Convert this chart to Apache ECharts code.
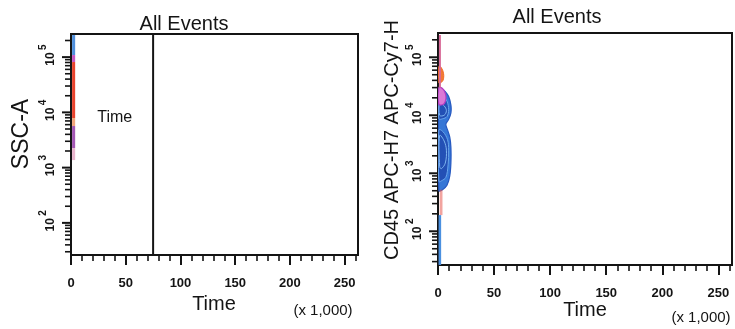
<!DOCTYPE html>
<html>
<head>
<meta charset="utf-8">
<script src="https://cdn.jsdelivr.net/npm/echarts@6/dist/echarts.min.js"></script>
<style>
  html, body { margin: 0; padding: 0; background: #fff; }
  #chart { width: 735px; height: 329px; }
</style>
</head>
<body>
<div id="chart"></div>
<script>
// ---- Axis scales (18-bit cytometer ranges) ----
const timeMax = 262144;
const logMin = 26.2144;
const logMax = 262144;

const xTickValues = [0, 50000, 100000, 150000, 200000, 250000];
const xTickLabels = ['0', '50', '100', '150', '200', '250'];
const xMinorTicks = [10000, 20000, 30000, 40000, 60000, 70000, 80000, 90000,
  110000, 120000, 130000, 140000, 160000, 170000, 180000, 190000,
  210000, 220000, 230000, 240000, 260000];

const yDecades = [100, 1000, 10000, 100000];
const yExponents = ['2', '3', '4', '5'];
const yMinorTicks = [30, 40, 50, 60, 70, 80, 90,
  200, 300, 400, 500, 600, 700, 800, 900,
  2000, 3000, 4000, 5000, 6000, 7000, 8000, 9000,
  20000, 30000, 40000, 50000, 60000, 70000, 80000, 90000,
  200000];

// ---- SSC-A vs Time: density bands [timeStart, timeEnd, low, high, level] ----
const sscBands = [
  [1000, 3800, 109000, 251000, 0],
  [1000, 3800, 81500, 109000, 1],
  [1000, 3800, 7900, 81500, 2],
  [1000, 3800, 5660, 7900, 3],
  [1000, 3800, 2260, 5660, 4],
  [1000, 3800, 1370, 2260, 5]
];
const timeGate = [75000];
const gateLabel = ['Time'];
const gateLabelAt = [40000, 8200];

// ---- CD45 APC-H7 vs Time: contour outlines [time, value] ----
const cd45Outer = [[800, 29000], [3500, 28500], [6500, 25500], [9500, 21000], [11500, 15000],
  [11500, 11000], [9500, 8500], [7000, 7000], [8500, 5600], [10500, 4200], [11500, 2800],
  [11500, 1500], [10500, 900], [8000, 620], [4000, 520], [800, 500]];
const cd45UpperCore = [[800, 24000], [4500, 22000], [8000, 17500], [9500, 12500],
  [8000, 9500], [4000, 8700], [800, 8700]];
const cd45LowerCore = [[800, 5600], [4500, 5200], [8500, 3800], [9500, 2500],
  [9000, 1400], [7000, 850], [3000, 740], [800, 720]];
const cd45LowerInner = [[1500, 4500], [5500, 3600], [7500, 2500], [6500, 1500],
  [3000, 1200], [1500, 1300]];
const cd45UpperInner = [[1500, 16000], [5500, 14500], [7500, 12000], [5500, 10000], [1500, 10000]];
const cd45Magenta = [[800, 30000], [4000, 29000], [6500, 24000], [7000, 19000],
  [5000, 15500], [800, 15500]];
const cd45Orange = [[800, 70000], [3000, 66000], [5000, 52000], [4500, 40000],
  [2000, 36000], [800, 36000]];
// thin event streaks [timeStart, timeEnd, low, high, level]
const cd45Bands = [
  [800, 2600, 30000, 242000, 0],
  [1500, 4000, 190, 520, 1],
  [500, 2800, 26.3, 190, 2]
];

// ---- styles ----
const FONT = '"Liberation Sans", Arial, sans-serif';
const INK = '#141414';
const sscLevelColors = ['#4f8fdc', '#c456c4', '#e8432d', '#f2a57a', '#a457b4', '#e8b4cc'];
const cd45BandColors = ['#d86a98', 'rgba(232,90,80,0.55)', '#4a90e0'];
const cd45Layers = [
  { pts: cd45Outer, fill: '#3576d6', stroke: '#2558c0', width: 1.2 },
  { pts: cd45UpperCore, fill: '#2350b5', stroke: '#6aa6ec', width: 1 },
  { pts: cd45LowerCore, fill: '#2350b5', stroke: '#6aa6ec', width: 1 },
  { pts: cd45LowerInner, fill: 'rgba(0,0,0,0)', stroke: '#7db4ef', width: 1 },
  { pts: cd45UpperInner, fill: 'rgba(0,0,0,0)', stroke: '#7db4ef', width: 1 },
  { pts: cd45Magenta, fill: '#dc78d6', stroke: '#b43cc2', width: 1.2 },
  { pts: cd45Orange, fill: '#f27a35', stroke: '#f06a25', width: 1 }
];

const grids = [
  { left: 71, top: 34, width: 287, height: 221 },
  { left: 438, top: 33, width: 294, height: 232 }
];

function mainX(gi) {
  return {
    gridIndex: gi, type: 'value', min: 0, max: timeMax, position: 'bottom',
    axisLine: { show: true, onZero: false, lineStyle: { color: INK, width: 2 } },
    axisTick: { show: true, customValues: xTickValues, length: 10, lineStyle: { color: INK, width: 2 } },
    axisLabel: {
      customValues: xTickValues, margin: 22, fontSize: 13, fontWeight: 'bold',
      color: INK, fontFamily: FONT,
      formatter: v => xTickLabels[xTickValues.indexOf(v)] ?? ''
    },
    splitLine: { show: false }
  };
}
function minorX(gi) {
  return {
    gridIndex: gi, type: 'value', min: 0, max: timeMax, position: 'bottom',
    axisLine: { show: false, onZero: false },
    axisTick: { show: true, customValues: xMinorTicks, length: 6, lineStyle: { color: INK, width: 1.6 } },
    axisLabel: { show: false }, splitLine: { show: false }
  };
}
function dataY(gi) {
  return {
    gridIndex: gi, type: 'log', logBase: 10, min: logMin, max: logMax, position: 'left',
    axisLine: { show: true, onZero: false, lineStyle: { color: INK, width: 2 } },
    axisTick: { show: false }, axisLabel: { show: false }, splitLine: { show: false }
  };
}

// ticks of the log axis: [value, isMajor]
const yTickMarks = yDecades.map(v => [v, 1]).concat(yMinorTicks.map(v => [v, 0]));

function yTickSeries(gi) {
  return {
    type: 'custom', xAxisIndex: gi, yAxisIndex: gi, clip: false, z: 6, silent: true,
    data: yTickMarks.map(t => [0, t[0], t[1]]),
    renderItem(params, api) {
      const p = api.coord([api.value(0), api.value(1)]);
      const len = api.value(2) ? 9 : 6;
      return {
        type: 'line',
        shape: { x1: p[0] - len, y1: p[1], x2: p[0], y2: p[1] },
        style: { stroke: INK, lineWidth: api.value(2) ? 2 : 1.6 }
      };
    }
  };
}
// decade labels "10" with a raised exponent, reading bottom to top
function yLabelSeries(gi) {
  return {
    type: 'custom', xAxisIndex: gi, yAxisIndex: gi, clip: false, z: 6, silent: true,
    data: yDecades.map((v, i) => [0, v, i]),
    renderItem(params, api) {
      const p = api.coord([api.value(0), api.value(1)]);
      const exp = yExponents[api.value(2)];
      return {
        type: 'group',
        children: [
          { type: 'text', x: p[0] - 20, y: p[1] + 2, rotation: Math.PI / 2,
            style: { text: '10', font: 'bold 12px ' + FONT, fill: INK, textAlign: 'center', textVerticalAlign: 'middle' } },
          { type: 'text', x: p[0] - 28, y: p[1] - 10, rotation: Math.PI / 2,
            style: { text: exp, font: 'bold 10px ' + FONT, fill: INK, textAlign: 'center', textVerticalAlign: 'middle' } }
        ]
      };
    }
  };
}

function bandSeries(gi, bands, colors) {
  return {
    type: 'custom', xAxisIndex: gi, yAxisIndex: gi, clip: true, z: 3,
    data: bands,
    encode: { x: [0, 1], y: [2, 3] },
    renderItem(params, api) {
      const a = api.coord([api.value(0), api.value(3)]);
      const b = api.coord([api.value(1), api.value(2)]);
      return {
        type: 'rect',
        shape: { x: a[0], y: a[1], width: b[0] - a[0], height: b[1] - a[1] },
        style: { fill: colors[api.value(4)] }
      };
    }
  };
}

const chart = echarts.init(document.getElementById('chart'), null, { renderer: 'canvas' });

chart.setOption({
  backgroundColor: '#ffffff',
  animation: false,
  grid: grids.map(g => Object.assign({ show: true, borderColor: INK, borderWidth: 2 }, g)),
  xAxis: [mainX(0), mainX(1), minorX(0), minorX(1)],
  yAxis: [dataY(0), dataY(1)],
  series: [
    yTickSeries(0),
    yTickSeries(1),
    yLabelSeries(0),
    yLabelSeries(1),
    // SSC-A event streak
    bandSeries(0, sscBands, sscLevelColors),
    // Time interval gate
    {
      type: 'custom', xAxisIndex: 0, yAxisIndex: 0, z: 4,
      data: timeGate.map(t => [t, logMin, logMax]),
      renderItem(params, api) {
        const top = api.coord([api.value(0), api.value(2)]);
        const bot = api.coord([api.value(0), api.value(1)]);
        return {
          type: 'line',
          shape: { x1: top[0], y1: top[1], x2: bot[0], y2: bot[1] },
          style: { stroke: INK, lineWidth: 2 }
        };
      }
    },
    {
      type: 'custom', xAxisIndex: 0, yAxisIndex: 0, z: 4,
      data: [[gateLabelAt[0], gateLabelAt[1]]],
      renderItem(params, api) {
        const p = api.coord([api.value(0), api.value(1)]);
        return {
          type: 'text', x: p[0], y: p[1],
          style: { text: gateLabel[0], font: '16px ' + FONT, fill: INK, textAlign: 'center', textVerticalAlign: 'middle' }
        };
      }
    },
    // CD45 contour layers
    {
      type: 'custom', xAxisIndex: 1, yAxisIndex: 1, z: 3, clip: true,
      data: cd45Layers.map(l => [l.pts[0][0], l.pts[0][1]]),
      renderItem(params, api) {
        const layer = cd45Layers[params.dataIndex];
        const pts = layer.pts.map(p => api.coord(p));
        return {
          type: 'polygon',
          shape: { points: pts, smooth: 0.35 },
          style: { fill: layer.fill, stroke: layer.stroke, lineWidth: layer.width }
        };
      }
    },
    bandSeries(1, cd45Bands, cd45BandColors)
  ],
  graphic: [
    { type: 'text', x: 184, y: 24, style: { text: 'All Events', font: '20px ' + FONT, fill: INK, textAlign: 'center', textVerticalAlign: 'middle' } },
    { type: 'text', x: 557, y: 17, style: { text: 'All Events', font: '20px ' + FONT, fill: INK, textAlign: 'center', textVerticalAlign: 'middle' } },
    { type: 'text', x: 22, y: 134, rotation: Math.PI / 2, style: { text: 'SSC-A', font: '23px ' + FONT, fill: INK, textAlign: 'center', textVerticalAlign: 'middle' } },
    { type: 'text', x: 392, y: 140, rotation: Math.PI / 2, style: { text: 'CD45 APC-H7 APC-Cy7-H', font: '20px ' + FONT, fill: INK, textAlign: 'center', textVerticalAlign: 'middle' } },
    { type: 'text', x: 214, y: 304, style: { text: 'Time', font: '20px ' + FONT, fill: INK, textAlign: 'center', textVerticalAlign: 'middle' } },
    { type: 'text', x: 585, y: 310, style: { text: 'Time', font: '20px ' + FONT, fill: INK, textAlign: 'center', textVerticalAlign: 'middle' } },
    { type: 'text', x: 323, y: 311, style: { text: '(x 1,000)', font: '15px ' + FONT, fill: INK, textAlign: 'center', textVerticalAlign: 'middle' } },
    { type: 'text', x: 701, y: 318, style: { text: '(x 1,000)', font: '15px ' + FONT, fill: INK, textAlign: 'center', textVerticalAlign: 'middle' } }
  ]
});
</script>
</body>
</html>
